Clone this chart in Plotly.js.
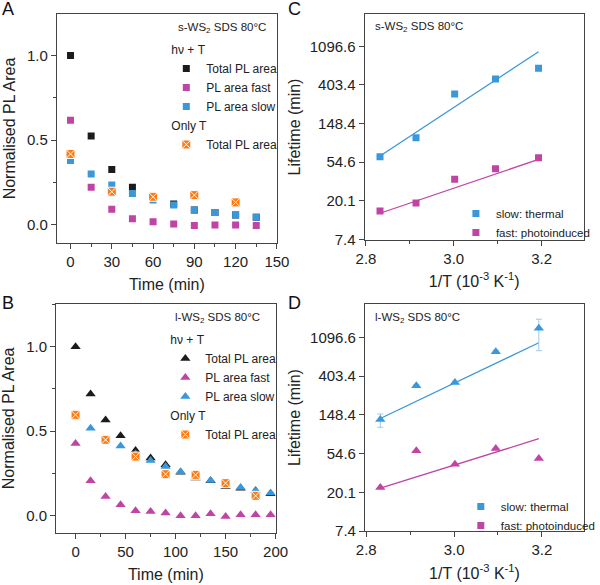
<!DOCTYPE html>
<html>
<head>
<meta charset="utf-8">
<script src="https://cdn.plot.ly/plotly-3.0.1.min.js"></script>
<style>html,body{margin:0;padding:0;background:#fff;}#plot{width:600px;height:585px;}</style>
</head>
<body>
<div id="plot"></div>
<script>
// ---------- Panel A : s-WS2 ----------
const timeA = [0, 15, 30, 45, 60, 75, 90, 105, 120, 135];
const totalA = [1.0, 0.524, 0.327, 0.221, 0.162, 0.122, 0.087, 0.073, 0.057, 0.044];
const fastA = [0.618, 0.221, 0.091, 0.035, 0.018, 0.004, -0.004, -0.002, -0.002, -0.004];
const slowA = [0.38, 0.30, 0.235, 0.185, 0.146, 0.116, 0.087, 0.073, 0.057, 0.044];
const timeOnlyTA = [0, 30, 60, 90, 120];
const onlyTA = [0.418, 0.195, 0.165, 0.175, 0.132];

// ---------- Panel B : l-WS2 ----------
const timeB = [0, 15, 30, 45, 60, 75, 90, 105, 120, 135, 150, 165, 180, 195];
const totalB = [1.0, 0.72, 0.567, 0.473, 0.386, 0.341, 0.301, 0.258, 0.223, 0.207, 0.173, 0.163, 0.148, 0.13];
const fastB = [0.427, 0.207, 0.114, 0.065, 0.03, 0.026, 0.016, 0.0, 0.0, 0.012, -0.004, 0.006, 0.006, 0.006];
const slowB = [0.581, 0.518, 0.453, 0.413, 0.366, 0.327, 0.291, 0.26, 0.232, 0.209, 0.193, 0.167, 0.149, 0.134];
const timeOnlyTB = [0, 30, 60, 90, 120, 150, 180];
const onlyTB = [0.597, 0.449, 0.35, 0.246, 0.242, 0.193, 0.118];

// ---------- Panels C, D : Arrhenius ----------
const invT = [2.832, 2.914, 3.002, 3.095, 3.193];
const slowC = [62.8, 102.5, 318.6, 469.5, 620];
const fastC = [15.4, 18.9, 35.0, 46.0, 61.2];
const fitX = [2.832, 3.193];
const fitSlowC = [64, 953];
const fitFastC = [14.5, 58.5];

const slowD = [131.6, 314, 342, 756, 1384];
const slowDErrPlus = [20, 10, 10, 30, 366];
const slowDErrMinus = [24, 10, 10, 30, 607];
const fastD = [22.7, 58.5, 41.4, 62.2, 47.9];
const fitSlowD = [135, 953];
const fitFastD = [22.4, 80];

const lifeTickVals = [7.389, 20.086, 54.598, 148.413, 403.429, 1096.633];
const lifeTickText = ['7.4', '20.1', '54.6', '148.4', '403.4', '1096.6'];

const cBlack = '#1b1b1b';
const cMag = '#c044a4';
const cBlue = '#3a97d9';
const cOrange = '#ff7a10';
const FONT = 'Liberation Sans, Arial, sans-serif';

function sq(color){ return {symbol:'square', size:7, color:color}; }
function tri(color){ return {symbol:'triangle-up', size:9, color:color}; }
const orangeMk = {symbol:'square-x', size:9, color:cOrange, line:{color:'#ffffff', width:1}};

const traces = [
  // A
  {x:timeA, y:totalA, xaxis:'x', yaxis:'y', mode:'markers', marker:sq(cBlack), name:'Total PL area', legend:'legend', legendgroup:'a1', legendgrouptitle:{text:'hν + T'}},
  {x:timeA, y:fastA, xaxis:'x', yaxis:'y', mode:'markers', marker:sq(cMag), name:'PL area fast', legend:'legend', legendgroup:'a1'},
  {x:timeA, y:slowA, xaxis:'x', yaxis:'y', mode:'markers', marker:sq(cBlue), name:'PL area slow', legend:'legend', legendgroup:'a1'},
  {x:timeOnlyTA, y:onlyTA, xaxis:'x', yaxis:'y', mode:'markers', marker:orangeMk, name:'Total PL area', legend:'legend', legendgroup:'a2', legendgrouptitle:{text:'Only T'}},
  // B
  {x:timeB, y:totalB, xaxis:'x2', yaxis:'y2', mode:'markers', marker:tri(cBlack), name:'Total PL area', legend:'legend2', legendgroup:'b1', legendgrouptitle:{text:'hν + T'}},
  {x:timeB, y:fastB, xaxis:'x2', yaxis:'y2', mode:'markers', marker:tri(cMag), name:'PL area fast', legend:'legend2', legendgroup:'b1'},
  {x:timeB, y:slowB, xaxis:'x2', yaxis:'y2', mode:'markers', marker:tri(cBlue), name:'PL area slow', legend:'legend2', legendgroup:'b1'},
  {x:timeOnlyTB, y:onlyTB, xaxis:'x2', yaxis:'y2', mode:'markers', marker:orangeMk, name:'Total PL area', legend:'legend2', legendgroup:'b2', legendgrouptitle:{text:'Only T'}},
  // C
  {x:fitX, y:fitSlowC, xaxis:'x3', yaxis:'y3', mode:'lines', line:{color:cBlue, width:1.3}, showlegend:false},
  {x:fitX, y:fitFastC, xaxis:'x3', yaxis:'y3', mode:'lines', line:{color:cMag, width:1.3}, showlegend:false},
  {x:invT, y:slowC, xaxis:'x3', yaxis:'y3', mode:'markers', marker:sq(cBlue), name:'slow: thermal', legend:'legend3'},
  {x:invT, y:fastC, xaxis:'x3', yaxis:'y3', mode:'markers', marker:sq(cMag), name:'fast: photoinduced', legend:'legend3'},
  // D
  {x:fitX, y:fitSlowD, xaxis:'x4', yaxis:'y4', mode:'lines', line:{color:cBlue, width:1.3}, showlegend:false},
  {x:fitX, y:fitFastD, xaxis:'x4', yaxis:'y4', mode:'lines', line:{color:cMag, width:1.3}, showlegend:false},
  {x:invT, y:slowD, xaxis:'x4', yaxis:'y4', mode:'markers', marker:tri(cBlue), showlegend:false,
   error_y:{type:'data', array:slowDErrPlus, arrayminus:slowDErrMinus, color:'#9cc8ec', thickness:1, width:3}},
  {x:invT, y:fastD, xaxis:'x4', yaxis:'y4', mode:'markers', marker:tri(cMag), showlegend:false},
  {x:[null], y:[null], xaxis:'x4', yaxis:'y4', mode:'markers', marker:sq(cBlue), name:'slow: thermal', legend:'legend4'},
  {x:[null], y:[null], xaxis:'x4', yaxis:'y4', mode:'markers', marker:sq(cMag), name:'fast: photoinduced', legend:'legend4'}
];

const axBase = {showline:true, linecolor:'#444', linewidth:1, mirror:true, ticks:'outside', ticklen:5, tickcolor:'#444',
  showgrid:false, zeroline:false, tickfont:{size:15, color:'#222', family:FONT}};
function title(t, s){ return {text:t, font:{size:16, color:'#222', family:FONT}, standoff:s}; }

const legBase = {bgcolor:'rgba(0,0,0,0)', font:{size:12, color:'#222', family:FONT}, tracegroupgap:0, itemwidth:30,
  grouptitlefont:{size:12, color:'#222', family:FONT}, xanchor:'left', yanchor:'top'};

const layout = {
  width:600, height:585, margin:{l:0, r:0, t:0, b:0}, paper_bgcolor:'#fff', plot_bgcolor:'#fff',
  font:{family:FONT, color:'#222'},
  xaxis: Object.assign({}, axBase, {domain:[0.0967, 0.4717], anchor:'y', range:[-10, 150], dtick:30, tick0:0,
    minor:{ticks:'outside', ticklen:3, dtick:15, tickcolor:'#444'}, title:title('Time (min)', 9), automargin:false}),
  yaxis: Object.assign({}, axBase, {domain:[0.5846, 0.976], anchor:'x', range:[-0.108, 1.245], dtick:0.5, tick0:0, tickformat:'.1f',
    minor:{ticks:'outside', ticklen:3, dtick:0.25, tickcolor:'#444'}, title:title('Normalised PL Area', 7), automargin:false}),
  xaxis2: Object.assign({}, axBase, {domain:[0.0955, 0.4695], anchor:'y2', range:[-19.5, 200], dtick:50, tick0:0,
    minor:{ticks:'outside', ticklen:3, dtick:25, tickcolor:'#444'}, title:title('Time (min)', 10), automargin:false}),
  yaxis2: Object.assign({}, axBase, {domain:[0.0894, 0.4803], anchor:'x2', range:[-0.1, 1.252], dtick:0.5, tick0:0, tickformat:'.1f',
    minor:{ticks:'outside', ticklen:3, dtick:0.25, tickcolor:'#444'}, title:title('Normalised PL Area', 7), automargin:false}),
  xaxis3: Object.assign({}, axBase, {domain:[0.6212, 0.9945], anchor:'y3', range:[2.797, 3.296], dtick:0.2, tick0:2.8, tickformat:'.1f',
    minor:{ticks:'outside', ticklen:3, dtick:0.1, tickcolor:'#444'}, title:title('1/T (10<sup>-3</sup> K<sup>-1</sup>)', 9), automargin:false}),
  yaxis3: Object.assign({}, axBase, {domain:[0.5897, 0.976], anchor:'x3', type:'log', range:[0.860, 3.4036],
    tickmode:'array', tickvals:lifeTickVals, ticktext:lifeTickText, title:title('Lifetime (min)', 5), automargin:false}),
  xaxis4: Object.assign({}, axBase, {domain:[0.6217, 0.995], anchor:'y4', range:[2.797, 3.296], dtick:0.2, tick0:2.8, tickformat:'.1f',
    minor:{ticks:'outside', ticklen:3, dtick:0.1, tickcolor:'#444'}, title:title('1/T (10<sup>-3</sup> K<sup>-1</sup>)', 10), automargin:false}),
  yaxis4: Object.assign({}, axBase, {domain:[0.0923, 0.4803], anchor:'x4', type:'log', range:[0.8686, 3.4135],
    tickmode:'array', tickvals:lifeTickVals, ticktext:lifeTickText, title:title('Lifetime (min)', 5), automargin:false}),
  legend: Object.assign({}, legBase, {x:170/600, y:1-35/585}),
  legend2: Object.assign({}, legBase, {x:169/600, y:1-325/585}),
  legend3: Object.assign({}, legBase, {x:466/600, y:1-199/585, font:{size:11.5, color:'#222', family:FONT}}),
  legend4: Object.assign({}, legBase, {x:471/600, y:1-492/585, font:{size:11.5, color:'#222', family:FONT}}),
  annotations: [
    {text:'s-WS<sub>2</sub> SDS 80°C', xref:'paper', yref:'paper', x:274/600, y:1-28/585, xanchor:'right', yanchor:'middle', showarrow:false, font:{size:11.5, family:FONT, color:'#222'}},
    {text:'l-WS<sub>2</sub> SDS 80°C', xref:'paper', yref:'paper', x:268/600, y:1-318/585, xanchor:'right', yanchor:'middle', showarrow:false, font:{size:11.5, family:FONT, color:'#222'}},
    {text:'s-WS<sub>2</sub> SDS 80°C', xref:'paper', yref:'paper', x:381/600, y:1-27/585, xanchor:'left', yanchor:'middle', showarrow:false, font:{size:11.5, family:FONT, color:'#222'}},
    {text:'l-WS<sub>2</sub> SDS 80°C', xref:'paper', yref:'paper', x:381/600, y:1-318/585, xanchor:'left', yanchor:'middle', showarrow:false, font:{size:11.5, family:FONT, color:'#222'}},
    {text:'A', xref:'paper', yref:'paper', x:0, y:1-9/585, xanchor:'left', yanchor:'middle', showarrow:false, font:{size:18, family:FONT, color:'#111'}},
    {text:'B', xref:'paper', yref:'paper', x:0, y:1-303/585, xanchor:'left', yanchor:'middle', showarrow:false, font:{size:18, family:FONT, color:'#111'}},
    {text:'C', xref:'paper', yref:'paper', x:292/600, y:1-9/585, xanchor:'left', yanchor:'middle', showarrow:false, font:{size:18, family:FONT, color:'#111'}},
    {text:'D', xref:'paper', yref:'paper', x:292/600, y:1-303/585, xanchor:'left', yanchor:'middle', showarrow:false, font:{size:18, family:FONT, color:'#111'}}
  ]
};

Plotly.newPlot('plot', traces, layout, {staticPlot:true, displayModeBar:false});
</script>
</body>
</html>
